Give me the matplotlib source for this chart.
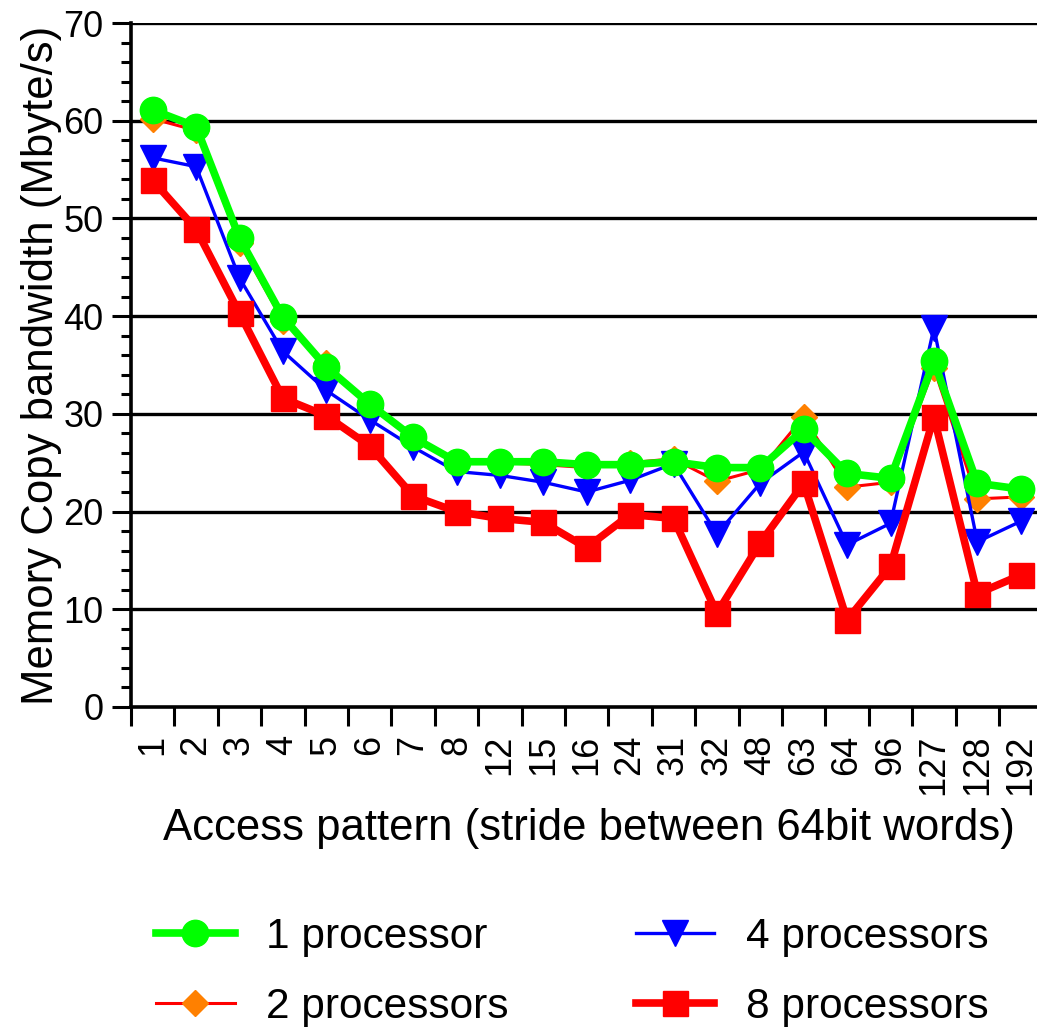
import numpy as np
import matplotlib
matplotlib.use("Agg")
import matplotlib.pyplot as plt
from matplotlib.ticker import MultipleLocator, FixedLocator

plt.rcParams["font.family"] = ["Liberation Sans", "DejaVu Sans"]

strides = ["1", "2", "3", "4", "5", "6", "7", "8", "12", "15", "16",
           "24", "31", "32", "48", "63", "64", "96", "127", "128", "192"]

bw_1proc = [61.1, 59.4, 48.0, 39.9, 34.8, 31.0, 27.6, 25.1, 25.1, 25.1, 24.8,
            24.8, 25.1, 24.5, 24.5, 28.4, 23.9, 23.4, 35.4, 22.9, 22.3]
bw_2proc = [60.2, 59.0, 47.5, 39.5, 35.2, 30.8, 27.4, 25.0, 25.0, 24.8, 24.5,
            25.0, 25.4, 23.1, 24.3, 29.7, 22.5, 23.0, 34.7, 21.3, 21.5]
bw_4proc = [56.2, 55.3, 43.9, 36.4, 32.4, 29.4, 26.6, 24.1, 23.7, 23.0, 22.0,
            23.2, 24.9, 17.7, 22.9, 26.1, 16.6, 18.8, 38.8, 16.9, 19.0]
bw_8proc = [53.9, 48.9, 40.3, 31.6, 29.8, 26.7, 21.6, 20.0, 19.3, 18.9, 16.3,
            19.7, 19.3, 9.6, 16.8, 22.9, 8.9, 14.4, 29.7, 11.6, 13.5]

x = np.arange(len(strides))

fig = plt.figure(figsize=(10.37, 10.34), dpi=100)
W, H = 1037.0, 1034.0
ax = fig.add_axes([131 / W, (H - 707) / H, (21 * 43.4) / W, (707 - 23) / H])

# grid lines first so the series sit on top
for yv in range(10, 80, 10):
    ax.axhline(yv, color="black", linewidth=2.4, zorder=1)

ax.plot(x, bw_2proc, color="#FF0000", linewidth=2.2, marker="D", markersize=13,
        markerfacecolor="#FF8000", markeredgecolor="#FF8000", label="2 processors", zorder=3)
ax.plot(x, bw_4proc, color="#0000FF", linewidth=2.4, marker="v", markersize=19,
        markerfacecolor="#0000FF", markeredgecolor="#0000FF", label="4 processors", zorder=4)
ax.plot(x, bw_8proc, color="#FF0000", linewidth=5.5, marker="s", markersize=18,
        markerfacecolor="#FF0000", markeredgecolor="#FF0000", label="8 processors", zorder=5)
ax.plot(x, bw_1proc, color="#00FF00", linewidth=5.5, marker="o", markersize=19,
        markerfacecolor="#00FF00", markeredgecolor="#00FF00", label="1 processor", zorder=6)

ax.set_xlim(-0.5, len(strides) - 0.5)
ax.set_ylim(0, 70)

for side in ["top", "right"]:
    ax.spines[side].set_visible(False)
for side in ["left", "bottom"]:
    ax.spines[side].set_linewidth(2.6)

# y axis: labelled every 10, small ticks every 2
ax.yaxis.set_major_locator(MultipleLocator(10))
ax.yaxis.set_minor_locator(MultipleLocator(2))
ax.tick_params(axis="y", which="major", direction="out", length=14, width=2.2,
               labelsize=26, pad=6)
ax.tick_params(axis="y", which="minor", direction="out", length=7, width=2.2)

# x axis: labels at category centres, tick marks between categories
ax.set_xticks(x)
ax.set_xticklabels(strides, rotation=90, va="top", ha="center")
ax.xaxis.set_minor_locator(FixedLocator(np.arange(-0.5, len(strides), 1.0)))
ax.tick_params(axis="x", which="major", length=0, labelsize=26, pad=20)
ax.tick_params(axis="x", which="minor", direction="out", length=14, width=2.2)

ax.set_ylabel("Memory Copy bandwidth (Mbyte/s)", fontsize=31.5)
ax.yaxis.set_label_coords(-0.076, 0.5)
ax.set_xlabel("Access pattern (stride between 64bit words)", fontsize=31.5)
ax.xaxis.set_label_coords(0.503, -0.147)

handles, labels = ax.get_legend_handles_labels()
order = [labels.index(l) for l in ["1 processor", "2 processors", "4 processors", "8 processors"]]
fig.legend([handles[i] for i in order], [labels[i] for i in order],
           loc="center", bbox_to_anchor=(0.552, 0.06), ncol=2, frameon=False,
           fontsize=30.5, handlelength=1.85, handletextpad=0.75,
           columnspacing=3.0, labelspacing=0.72, borderpad=0)

fig.savefig("out.png", dpi=100)
plt.close(fig)
